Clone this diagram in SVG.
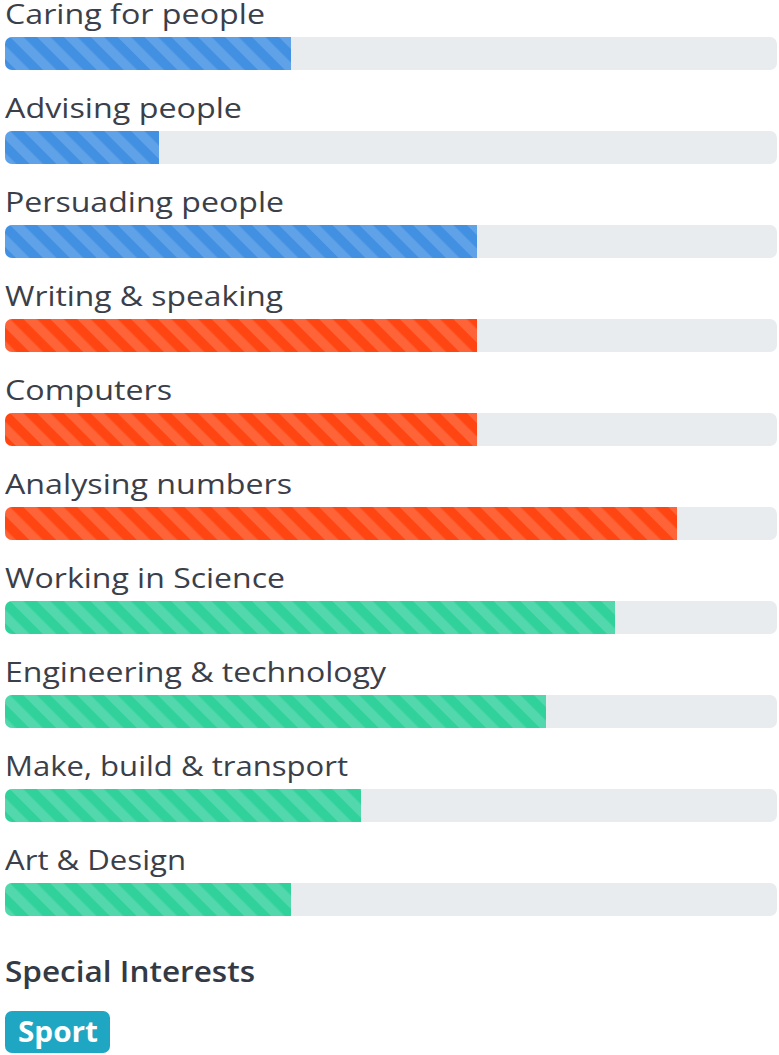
<svg xmlns="http://www.w3.org/2000/svg" width="779" height="1055" viewBox="0 0 779 1055">
<style>
.lbl{font-family:"Open Sans","Liberation Sans",sans-serif;font-size:28px;fill:#3b3f4a}
.track{fill:#e9ecef}
.blue{fill:#4290e2}
.orange{fill:#ff4612}
.green{fill:#31d19c}
.str{fill:url(#stripes)}
.hd{font-family:"Open Sans","Liberation Sans",sans-serif;font-size:28px;font-weight:600;fill:#343a45}
.badge{fill:#1fa6c2}
.btxt{font-family:"Open Sans","Liberation Sans",sans-serif;font-size:28px;font-weight:700;fill:#ffffff}
</style>
<defs>
<pattern id="stripes" patternUnits="userSpaceOnUse" width="19" height="19" patternTransform="rotate(-45)">
<rect x="0" y="0" width="9.5" height="19" fill="#ffffff" fill-opacity="0.16"/>
</pattern>
</defs>
<rect width="779" height="1055" fill="#ffffff"/>
<g id="bar-caring">
<text class="lbl" x="5" y="24" textLength="260" lengthAdjust="spacingAndGlyphs">Caring for people</text>
<rect class="track" x="5" y="37" width="772" height="33" rx="7"/>
<path class="blue" d="M12 37H291V70H12A7 7 0 0 1 5 63V44A7 7 0 0 1 12 37Z"/>
<path class="str" d="M12 37H291V70H12A7 7 0 0 1 5 63V44A7 7 0 0 1 12 37Z"/>
</g>
<g id="bar-advising">
<text class="lbl" x="5" y="118" textLength="237" lengthAdjust="spacingAndGlyphs">Advising people</text>
<rect class="track" x="5" y="131" width="772" height="33" rx="7"/>
<path class="blue" d="M12 131H159V164H12A7 7 0 0 1 5 157V138A7 7 0 0 1 12 131Z"/>
<path class="str" d="M12 131H159V164H12A7 7 0 0 1 5 157V138A7 7 0 0 1 12 131Z"/>
</g>
<g id="bar-persuading">
<text class="lbl" x="5" y="212" textLength="279" lengthAdjust="spacingAndGlyphs">Persuading people</text>
<rect class="track" x="5" y="225" width="772" height="33" rx="7"/>
<path class="blue" d="M12 225H477V258H12A7 7 0 0 1 5 251V232A7 7 0 0 1 12 225Z"/>
<path class="str" d="M12 225H477V258H12A7 7 0 0 1 5 251V232A7 7 0 0 1 12 225Z"/>
</g>
<g id="bar-writing">
<text class="lbl" x="5" y="306" textLength="278" lengthAdjust="spacingAndGlyphs">Writing &amp; speaking</text>
<rect class="track" x="5" y="319" width="772" height="33" rx="7"/>
<path class="orange" d="M12 319H477V352H12A7 7 0 0 1 5 345V326A7 7 0 0 1 12 319Z"/>
<path class="str" d="M12 319H477V352H12A7 7 0 0 1 5 345V326A7 7 0 0 1 12 319Z"/>
</g>
<g id="bar-computers">
<text class="lbl" x="5" y="400" textLength="167" lengthAdjust="spacingAndGlyphs">Computers</text>
<rect class="track" x="5" y="413" width="772" height="33" rx="7"/>
<path class="orange" d="M12 413H477V446H12A7 7 0 0 1 5 439V420A7 7 0 0 1 12 413Z"/>
<path class="str" d="M12 413H477V446H12A7 7 0 0 1 5 439V420A7 7 0 0 1 12 413Z"/>
</g>
<g id="bar-analysing">
<text class="lbl" x="5" y="494" textLength="287" lengthAdjust="spacingAndGlyphs">Analysing numbers</text>
<rect class="track" x="5" y="507" width="772" height="33" rx="7"/>
<path class="orange" d="M12 507H677V540H12A7 7 0 0 1 5 533V514A7 7 0 0 1 12 507Z"/>
<path class="str" d="M12 507H677V540H12A7 7 0 0 1 5 533V514A7 7 0 0 1 12 507Z"/>
</g>
<g id="bar-science">
<text class="lbl" x="5" y="588" textLength="280" lengthAdjust="spacingAndGlyphs">Working in Science</text>
<rect class="track" x="5" y="601" width="772" height="33" rx="7"/>
<path class="green" d="M12 601H615V634H12A7 7 0 0 1 5 627V608A7 7 0 0 1 12 601Z"/>
<path class="str" d="M12 601H615V634H12A7 7 0 0 1 5 627V608A7 7 0 0 1 12 601Z"/>
</g>
<g id="bar-engineering">
<text class="lbl" x="5" y="682" textLength="381" lengthAdjust="spacingAndGlyphs">Engineering &amp; technology</text>
<rect class="track" x="5" y="695" width="772" height="33" rx="7"/>
<path class="green" d="M12 695H546V728H12A7 7 0 0 1 5 721V702A7 7 0 0 1 12 695Z"/>
<path class="str" d="M12 695H546V728H12A7 7 0 0 1 5 721V702A7 7 0 0 1 12 695Z"/>
</g>
<g id="bar-make">
<text class="lbl" x="5" y="776" textLength="343" lengthAdjust="spacingAndGlyphs">Make, build &amp; transport</text>
<rect class="track" x="5" y="789" width="772" height="33" rx="7"/>
<path class="green" d="M12 789H361V822H12A7 7 0 0 1 5 815V796A7 7 0 0 1 12 789Z"/>
<path class="str" d="M12 789H361V822H12A7 7 0 0 1 5 815V796A7 7 0 0 1 12 789Z"/>
</g>
<g id="bar-art">
<text class="lbl" x="5" y="870" textLength="181" lengthAdjust="spacingAndGlyphs">Art &amp; Design</text>
<rect class="track" x="5" y="883" width="772" height="33" rx="7"/>
<path class="green" d="M12 883H291V916H12A7 7 0 0 1 5 909V890A7 7 0 0 1 12 883Z"/>
<path class="str" d="M12 883H291V916H12A7 7 0 0 1 5 909V890A7 7 0 0 1 12 883Z"/>
</g>
<g id="special-interests">
<text class="hd" x="5" y="982" textLength="250" lengthAdjust="spacingAndGlyphs">Special Interests</text>
</g>
<g id="badge-sport">
<rect class="badge" x="5" y="1011" width="105" height="42" rx="7"/>
<text class="btxt" x="18" y="1042" textLength="80" lengthAdjust="spacingAndGlyphs">Sport</text>
</g>
<g id="connectors"/>
</svg>
